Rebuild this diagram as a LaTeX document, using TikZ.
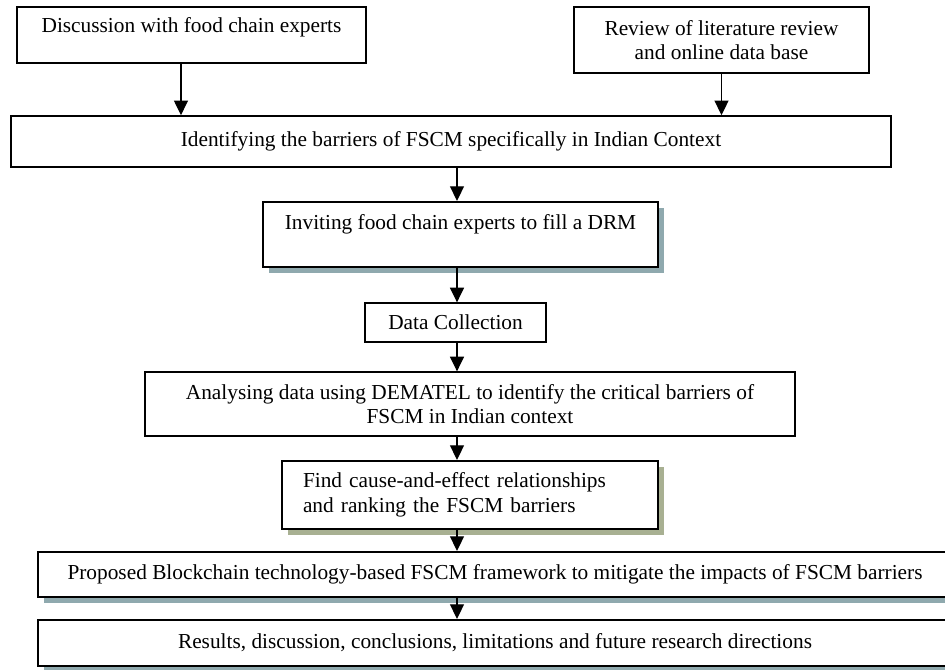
\documentclass[tikz,border=0pt]{standalone}
\usepackage{fontspec}
\setmainfont{Liberation Serif}
\usetikzlibrary{arrows.meta}
\usetikzlibrary{shadows}
\definecolor{shadowteal}{RGB}{143,169,174}
\definecolor{shadowolive}{RGB}{168,176,146}

\begin{document}
\begin{tikzpicture} [x=0.75pt, y=-0.75pt,
        font=\fontsize{16pt}{18.5pt}\selectfont,
        box/.style={draw, fill=white, line width=1pt, align=center, inner sep=0pt},
        boldbox/.style={box, line width=1.6pt},
        tealshadow/.style={drop shadow={shadow xshift=4.5pt, shadow yshift=-4.5pt,
                fill=shadowteal, opacity=1}},
        oliveshadow/.style={drop shadow={shadow xshift=4.5pt, shadow yshift=-4.5pt,
                fill=shadowolive, opacity=1}},
        flow/.style={-{Triangle[length=11pt, width=10.5pt]}, line width=1pt}]
        \useasboundingbox (0,0) rectangle (945,669);
        \clip (0,0) rectangle (945,669);
        %sources
        \node[box, minimum width=261.75pt, minimum height=42pt] (disc) at (191.5,35)
              {Discussion with food chain experts\\[-4pt] ~};
        \node[box, minimum width=221.25pt, minimum height=49.5pt] (review) at (721.5,40)
              {Review of literature review\\ and online data base};
        %main steps
        \node[box, line width=1.2pt, minimum width=660pt, minimum height=38.25pt] (ident)
              at (451,141.5) {Identifying the barriers of FSCM specifically in Indian Context};
        \node[boldbox, tealshadow, minimum width=296.25pt, minimum height=48.75pt] (invite)
              at (460.5,234.5) {Inviting food chain experts to fill a DRM\\ ~};
        \node[box, minimum width=135.75pt, minimum height=29.25pt] (data) at (455.5,322.5)
              {Data Collection};
        \node[box, minimum width=487.5pt, minimum height=48pt] (analyse) at (470,404)
              {Analysing data using DEMATEL to identify the critical barriers of\\ FSCM in Indian context};
        \node[boldbox, oliveshadow, align=left, text width=250.5pt, inner xsep=15.75pt,
              minimum height=51pt] (find) at (470,495)
              {Find cause-and-effect relationships\\ and ranking the FSCM barriers};
        \node[boldbox, tealshadow, minimum width=685.5pt, minimum height=33.75pt] (propose)
              at (495,574.5) {Proposed Blockchain technology-based FSCM framework to mitigate the impacts of FSCM barriers};
        \node[boldbox, tealshadow, minimum width=685.5pt, minimum height=34.5pt] (results)
              at (495,643) {Results, discussion, conclusions, limitations and future research directions};
        %arrows
        \coordinate (spine) at (457,0);
        \draw[flow] ([xshift=-7.9pt]disc.south) -- ([xshift=-7.9pt]disc.south |- ident.north);
        \draw[flow] (review.south) -- (review.south |- ident.north);
        \draw[flow] (ident.south -| spine) -- (invite.north -| spine);
        \draw[flow] (invite.south -| spine) -- (data.north -| spine);
        \draw[flow] (data.south -| spine) -- (analyse.north -| spine);
        \draw[flow] (analyse.south -| spine) -- (find.north -| spine);
        \draw[flow] (find.south -| spine) -- (propose.north -| spine);
        \draw[flow] (propose.south -| spine) -- (results.north -| spine);
\end{tikzpicture}
\end{document}
